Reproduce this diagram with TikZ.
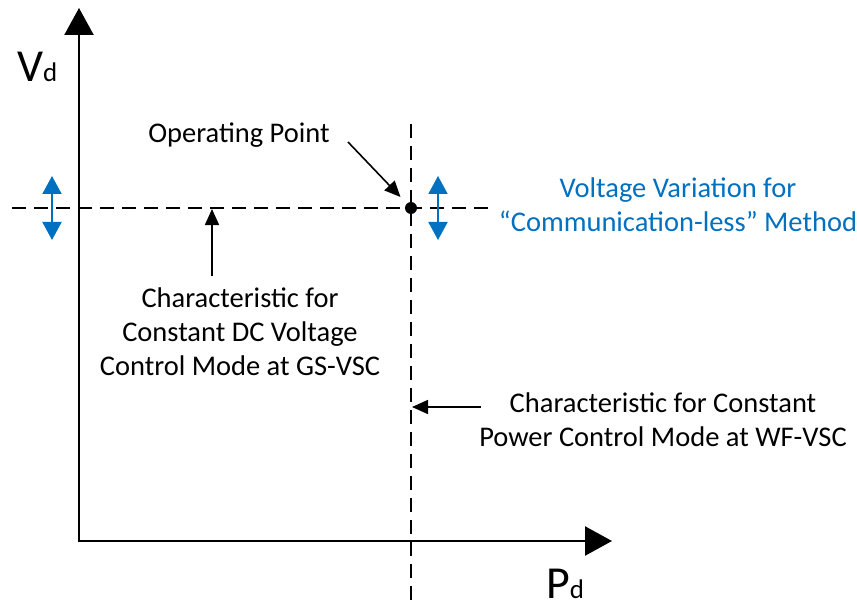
\documentclass[tikz,border=0pt]{standalone}
\usepackage{fontspec}
\setmainfont{Carlito}
\usetikzlibrary{arrows.meta,positioning,calc}
\definecolor{Ink}{HTML}{000000}
\definecolor{VarBlue}{HTML}{0070C0}
\begin{document}
\begin{tikzpicture}[x=1bp,y=-1bp,font=\fontsize{28.6}{34}\selectfont,text=Ink,
axis/.style={line width=2.4bp,-{Triangle[length=27bp,width=29bp]}},
charline/.style={line width=1.6bp,dash pattern=on 14bp off 8bp},
pointer/.style={line width=1.6bp,-{Triangle[length=16bp,width=14bp]}},
vararrow/.style={draw=VarBlue,line width=2bp,{Triangle[length=18bp,width=19bp]}-{Triangle[length=18bp,width=19bp]}},
lbl/.style={align=center,inner sep=0pt}]
\useasboundingbox (0,0) rectangle (857,608);
\coordinate (O) at (79,541);
\coordinate (vtop) at (79,8);
\coordinate (pend) at (612,541);
\draw[axis] ($(O)+(0,1.2)$) -- (vtop);
\draw[axis] ($(O)+(-1.2,0)$) -- (pend);
\node[lbl,font=\fontsize{46}{46}\selectfont,anchor=base west] (vd) at (17,82){V\fontsize{27}{27}\selectfont d};
\node[lbl,font=\fontsize{46}{46}\selectfont,anchor=base west] (pd) at (546,598){P\fontsize{27}{27}\selectfont d};
% characteristics
\coordinate (hleft) at (12,208);
\coordinate (hright) at (492,208);
\coordinate (vup) at (411,124);
\coordinate (vdown) at (411,608);
\draw[charline] (hleft) -- (hright);
\draw[charline] (vup) -- (vdown);
\node[circle,fill=Ink,inner sep=0pt,minimum size=12bp] (op) at (411,208){};
% operating point
\node[lbl] (optxt) at (239,135){Operating Point};
\coordinate (optail) at (348,142);
\draw[pointer,shorten >=9bp] (optail) -- (op);
% voltage variation
\draw[vararrow] (52,176) coordinate (vl1) -- (52,240) coordinate (vl2);
\draw[vararrow] (438,176) coordinate (vr1) -- (438,240) coordinate (vr2);
\node[lbl,text=VarBlue] (vartxt) at (678,205){Voltage Variation for\\``Communication-less'' Method};
% GS-VSC
\node[lbl] (gstxt) at (240,332){Characteristic for\\Constant DC Voltage\\Control Mode at GS-VSC};
\coordinate (gstail) at (212,276);
\coordinate (gsmark) at (212,209);
\draw[pointer] (gstail) -- (gsmark);
% WF-VSC
\node[lbl] (wftxt) at (663,420){Characteristic for Constant\\Power Control Mode at WF-VSC};
\coordinate (wftail) at (481,407);
\coordinate (wfmark) at (412,407);
\draw[pointer] (wftail) -- (wfmark);
\end{tikzpicture}
\end{document}
